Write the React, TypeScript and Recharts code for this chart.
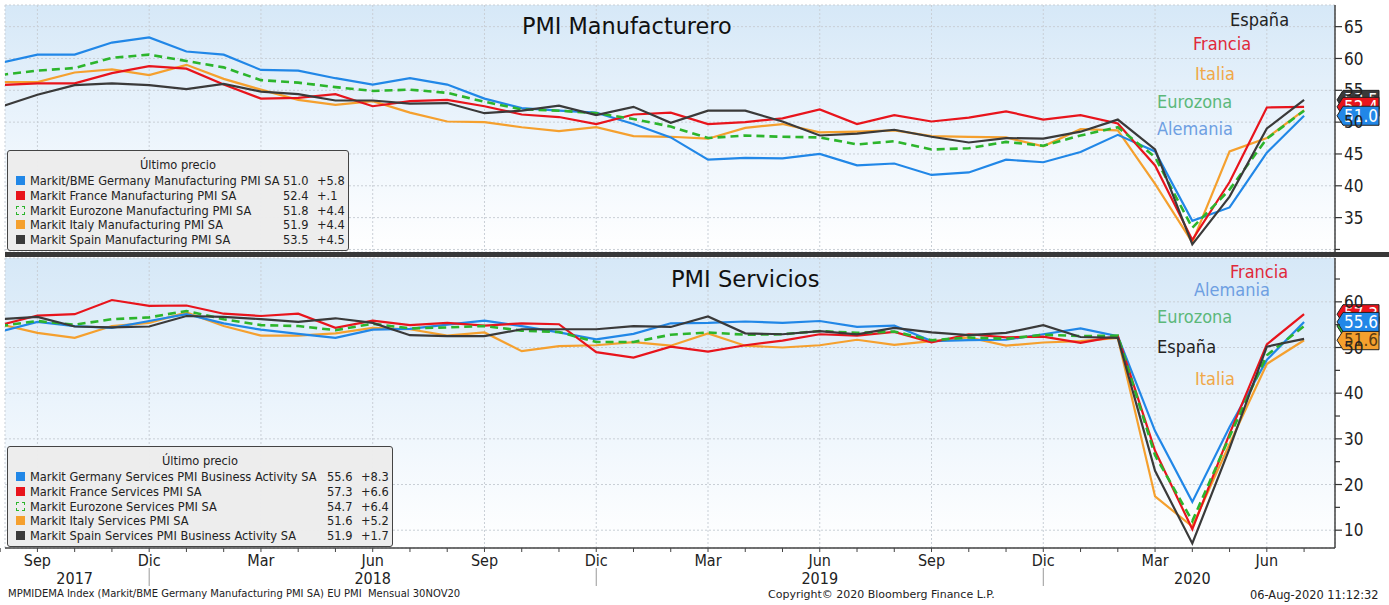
import { LineChart, Line, XAxis, YAxis, CartesianGrid, ReferenceDot } from 'recharts';

// months shown, ago-17 .. jul-20
const PERIODS = [
  'ago-17', 'sep-17', 'oct-17', 'nov-17', 'dic-17',
  'ene-18', 'feb-18', 'mar-18', 'abr-18', 'may-18', 'jun-18', 'jul-18', 'ago-18', 'sep-18', 'oct-18', 'nov-18', 'dic-18',
  'ene-19', 'feb-19', 'mar-19', 'abr-19', 'may-19', 'jun-19', 'jul-19', 'ago-19', 'sep-19', 'oct-19', 'nov-19', 'dic-19',
  'ene-20', 'feb-20', 'mar-20', 'abr-20', 'may-20', 'jun-20', 'jul-20',
];
const QUARTER_LABELS: Record<string, string> = { sep: 'Sep', dic: 'Dic', mar: 'Mar', jun: 'Jun' };
const YEAR_LABELS: [string, string][] = [['oct-17', '2017'], ['jun-18', '2018'], ['jun-19', '2019'], ['abr-20', '2020']];
const YEAR_BREAKS = ['dic-17', 'dic-18', 'dic-19'];

// Manufacturing PMI
const deMfg = [59.3, 60.6, 60.6, 62.5, 63.3, 61.1, 60.6, 58.2, 58.1, 56.9, 55.9, 56.9, 55.9, 53.7, 52.2, 51.8, 51.5, 49.7, 47.6, 44.1, 44.4, 44.3, 45.0, 43.2, 43.5, 41.7, 42.1, 44.1, 43.7, 45.3, 48.0, 45.4, 34.5, 36.6, 45.2, 51.0];
const frMfg = [55.8, 56.1, 56.1, 57.7, 58.8, 58.4, 55.9, 53.7, 53.8, 54.4, 52.5, 53.3, 53.5, 52.5, 51.2, 50.8, 49.7, 51.2, 51.5, 49.7, 50.0, 50.6, 52.0, 49.7, 51.1, 50.1, 50.7, 51.7, 50.4, 51.1, 49.8, 43.2, 31.5, 40.6, 52.3, 52.4];
const ezMfg = [57.4, 58.1, 58.5, 60.1, 60.6, 59.6, 58.6, 56.6, 56.2, 55.5, 54.9, 55.1, 54.6, 53.2, 52.0, 51.8, 51.4, 50.5, 49.3, 47.5, 47.9, 47.7, 47.6, 46.5, 47.0, 45.7, 45.9, 46.9, 46.3, 47.9, 49.2, 44.5, 33.4, 39.4, 47.4, 51.8];
const itMfg = [56.3, 56.3, 57.8, 58.3, 57.4, 59.0, 56.8, 55.1, 53.5, 52.7, 53.3, 51.5, 50.1, 50.0, 49.2, 48.6, 49.2, 47.8, 47.7, 47.4, 49.1, 49.7, 48.4, 48.5, 48.7, 47.8, 47.7, 47.6, 46.2, 48.9, 48.7, 40.3, 31.1, 45.4, 47.5, 51.9];
const esMfg = [52.4, 54.3, 55.8, 56.1, 55.8, 55.2, 56.0, 54.8, 54.4, 53.4, 53.4, 52.9, 53.0, 51.4, 51.8, 52.6, 51.1, 52.4, 49.9, 51.8, 51.8, 50.1, 47.9, 48.2, 48.8, 47.7, 46.8, 47.5, 47.4, 48.5, 50.4, 45.7, 30.8, 38.3, 49.0, 53.5];
const MFG_NAMES = ['Markit/BME Germany Manufacturing PMI SA', 'Markit France Manufacturing PMI SA', 'Markit Eurozone Manufacturing PMI SA', 'Markit Italy Manufacturing PMI SA', 'Markit Spain Manufacturing PMI SA'];
const MFG_CHANGES = ['+5.8', '+.1', '+4.4', '+4.4', '+4.5'];

// Services PMI
const deSvc = [53.5, 55.6, 54.7, 54.3, 55.8, 57.3, 55.3, 53.9, 53.0, 52.1, 53.9, 54.1, 55.0, 55.9, 54.7, 53.3, 51.8, 53.0, 55.3, 55.4, 55.7, 55.4, 55.8, 54.5, 54.8, 51.4, 51.6, 51.7, 52.9, 54.2, 52.5, 31.7, 16.2, 32.6, 47.3, 55.6];
const frSvc = [54.9, 57.0, 57.3, 60.4, 59.1, 59.2, 57.4, 56.9, 57.4, 54.3, 55.9, 54.9, 55.4, 54.8, 55.3, 55.1, 49.0, 47.8, 50.2, 49.1, 50.5, 51.5, 52.9, 52.6, 53.4, 51.1, 52.9, 52.2, 52.4, 51.0, 52.5, 27.4, 10.2, 31.1, 50.7, 57.3];
const ezSvc = [54.7, 55.8, 55.0, 56.2, 56.6, 58.0, 56.2, 54.9, 54.7, 53.8, 55.2, 54.2, 54.4, 54.7, 53.7, 53.4, 51.2, 51.2, 52.8, 53.3, 52.8, 52.9, 53.6, 53.2, 53.5, 51.6, 52.2, 51.9, 52.8, 52.5, 52.6, 26.4, 12.0, 30.5, 48.3, 54.7];
const itSvc = [55.1, 53.2, 52.1, 54.7, 55.4, 57.7, 54.7, 52.6, 52.6, 53.1, 54.3, 54.0, 52.6, 53.3, 49.2, 50.3, 50.5, 51.2, 50.4, 53.1, 50.4, 50.0, 50.5, 51.7, 50.6, 51.4, 52.2, 50.4, 51.1, 51.4, 52.1, 17.4, 10.8, 28.9, 46.4, 51.6];
const esSvc = [56.2, 56.7, 54.6, 54.4, 54.6, 56.9, 56.7, 56.2, 55.6, 56.4, 55.4, 52.7, 52.5, 52.5, 54.0, 54.0, 54.0, 54.7, 54.5, 56.8, 53.1, 52.9, 53.6, 52.9, 54.3, 53.3, 52.7, 53.2, 54.9, 52.3, 52.1, 23.0, 7.1, 27.9, 50.2, 51.9];
const SVC_NAMES = ['Markit Germany Services PMI Business Activity SA', 'Markit France Services PMI SA', 'Markit Eurozone Services PMI SA', 'Markit Italy Services PMI SA', 'Markit Spain Services PMI Business Activity SA'];
const SVC_CHANGES = ['+8.3', '+6.6', '+6.4', '+5.2', '+1.7'];

const MFG_TICKS = [30, 35, 40, 45, 50, 55, 60, 65];
const SVC_TICKS = [10, 15, 20, 25, 30, 35, 40, 45, 50, 55, 60, 65];
const SVC_GRID = [10, 20, 30, 40, 50, 60];

const C = { de: '#2187e7', fr: '#e8141c', ez: '#2cb52c', it: '#f5a02e', es: '#3a3a3a' };
const NARROW = "'Liberation Sans Narrow', 'DejaVu Sans Condensed', sans-serif";
const COND = "'DejaVu Sans Condensed', 'Liberation Sans Narrow', sans-serif";
const TITLE = "'DejaVu Sans', Verdana, sans-serif";

const X_DOMAIN: [number, number] = [0.13, 35.83];
const X_MAX = X_DOMAIN[1];
const idx = (p: string) => PERIODS.indexOf(p);
const QUARTER_IDX = PERIODS.map((p, i) => (QUARTER_LABELS[p.slice(0, 3)] ? i : -1)).filter((i) => i >= 0);
const ALL_IDX = PERIODS.map((_, i) => i);

const mfgRows = PERIODS.map((p, i) => ({ i, de: deMfg[i], fr: frMfg[i], ez: ezMfg[i], it: itMfg[i], es: esMfg[i] }));
const svcRows = PERIODS.map((p, i) => ({ i, de: deSvc[i], fr: frSvc[i], ez: ezSvc[i], it: itSvc[i], es: esSvc[i] }));

function YTick(props: any) {
  const { x, y, payload, labelled } = props;
  const v = payload.value;
  const showLabel = labelled(v);
  return (
    <g>
      <line x1={x} x2={x + (showLabel ? 7 : 5)} y1={y} y2={y} stroke="#333" strokeWidth={1.2} />
      {showLabel && (
        <text x={x + 9} y={y} dy="0.36em" fontSize={17} fill="#222" fontFamily={NARROW}>{v}</text>
      )}
    </g>
  );
}

function MonthTick(props: any) {
  const { x, y, payload } = props;
  const label = QUARTER_LABELS[PERIODS[payload.value].slice(0, 3)];
  return (
    <g>
      <line x1={x} x2={x} y1={y} y2={y + 4} stroke="#444" />
      {label && (
        <text x={x} y={y + 18} textAnchor="middle" fontSize={16} fill="#222" fontFamily={NARROW}>{label}</text>
      )}
    </g>
  );
}

function YearTick(props: any) {
  const { x, y, payload } = props;
  const key = PERIODS[payload.value];
  const year = YEAR_LABELS.find((d) => d[0] === key);
  if (year) {
    return <text x={x} y={y + 14} textAnchor="middle" fontSize={16} fill="#222" fontFamily={NARROW}>{year[1]}</text>;
  }
  return <line x1={x} x2={x} y1={y - 2} y2={y + 16} stroke="#999" />;
}

function Tag(props: any) {
  const { cx, cy, fill, text, color } = props;
  const x0 = cx + 2;
  const h = 9.5;
  return (
    <g>
      <path d={`M${x0},${cy} L${x0 + 6},${cy - h} L${x0 + 42},${cy - h} L${x0 + 42},${cy + h} L${x0 + 6},${cy + h} Z`} fill={fill} stroke="#222" strokeWidth={1} />
      <text x={x0 + 24} y={cy} dy="0.36em" textAnchor="middle" fontSize={17} fill={color} fontFamily={NARROW}>{text}</text>
    </g>
  );
}

const SERIES_ORDER: (keyof typeof C)[] = ['it', 'de', 'fr', 'ez', 'es'];

function renderLines() {
  return SERIES_ORDER.map((k) => (
    <Line
      key={k}
      xAxisId="x"
      yAxisId="y"
      type="linear"
      dataKey={k}
      stroke={C[k]}
      strokeWidth={k === 'ez' ? 2.6 : 2.2}
      strokeDasharray={k === 'ez' ? '8 5' : undefined}
      dot={false}
      activeDot={false}
      isAnimationActive={false}
    />
  ));
}

function tags(list: { k: keyof typeof C; v: number; color: string }[]) {
  return list.map((t) => (
    <ReferenceDot
      key={t.k}
      xAxisId="x"
      yAxisId="y"
      x={X_MAX}
      y={t.v}
      r={0}
      ifOverflow="visible"
      shape={(p: any) => <Tag cx={p.cx} cy={p.cy} fill={C[t.k]} text={t.v.toFixed(1)} color={t.color} />}
    />
  ));
}

function LegendBox({ left, top, width, names, values, changes, valueX, chgX }: any) {
  const keys: (keyof typeof C)[] = ['de', 'fr', 'ez', 'it', 'es'];
  return (
    <div style={{
      position: 'absolute', left, top, width, height: 99, background: 'rgba(236,236,236,0.97)',
      border: '1px solid #444', borderRadius: 3, fontFamily: COND, fontSize: 12.7, color: '#222',
    }}>
      <div style={{ position: 'absolute', left: 0, width: '100%', top: 6, textAlign: 'center', lineHeight: '15px' }}>Último precio</div>
      {keys.map((k, i) => (
        <div key={k} style={{ position: 'absolute', left: 0, top: 22 + i * 14.8, width: '100%', height: 15, lineHeight: '15px', whiteSpace: 'nowrap' }}>
          <span style={{
            position: 'absolute', left: 8, top: 3, width: k === 'ez' ? 7 : 9, height: k === 'ez' ? 7 : 9,
            background: k === 'ez' ? 'transparent' : C[k], border: k === 'ez' ? `1px dashed ${C.ez}` : 'none',
          }} />
          <span style={{ position: 'absolute', left: 22 }}>{names[i]}</span>
          <span style={{ position: 'absolute', left: valueX }}>{values[i].toFixed(1)}</span>
          <span style={{ position: 'absolute', left: chgX }}>{changes[i]}</span>
        </div>
      ))}
    </div>
  );
}

const label = (text: string, left: number, top: number, color: string) => (
  <div key={text + top} style={{ position: 'absolute', left, top, fontFamily: NARROW, fontSize: 18, color, whiteSpace: 'nowrap' }}>{text}</div>
);

export default function App() {
  const lastMfg = [deMfg, frMfg, ezMfg, itMfg, esMfg].map((a) => a[a.length - 1]);
  const lastSvc = [deSvc, frSvc, ezSvc, itSvc, esSvc].map((a) => a[a.length - 1]);
  const bg = 'linear-gradient(to bottom, #d6e8f7 0%, #ebf4fc 50%, #ffffff 100%)';

  return (
    <div style={{ position: 'relative', width: 1389, height: 605, overflow: 'hidden', background: '#fff' }}>
      <style>{'body{margin:0}'}</style>
      <div style={{ position: 'absolute', left: 5, top: 5, width: 1330, height: 247, background: bg }} />
      <div style={{ position: 'absolute', left: 5, top: 258, width: 1330, height: 290, background: bg }} />

      <div style={{ position: 'absolute', left: 0, top: 0 }}>
        <LineChart width={1389} height={253} data={mfgRows} margin={{ top: 5, right: 0, bottom: 1, left: 5 }}>
          <CartesianGrid xAxisId="x" yAxisId="y" stroke="#c9cfd6" strokeDasharray="2 2" />
          <XAxis xAxisId="x" dataKey="i" type="number" domain={X_DOMAIN} allowDataOverflow ticks={QUARTER_IDX} hide height={0} />
          <YAxis
            yAxisId="y" orientation="right" width={54} domain={[29.6, 68.4]} allowDataOverflow type="number"
            ticks={MFG_TICKS} interval={0} tickSize={0} tickMargin={0} tickLine={false}
            axisLine={{ stroke: '#444', strokeWidth: 1.5 }}
            tick={(p: any) => <YTick {...p} labelled={(v: number) => v >= 35} />}
          />
          {renderLines()}
          {tags([
            { k: 'es', v: lastMfg[4], color: '#fff' },
            { k: 'fr', v: lastMfg[1], color: '#fff' },
            { k: 'de', v: lastMfg[0], color: '#fff' },
          ])}
        </LineChart>
      </div>

      <div style={{ position: 'absolute', left: 5, top: 252, width: 1384, height: 5, background: '#383838' }} />

      <div style={{ position: 'absolute', left: 0, top: 257 }}>
        <LineChart width={1389} height={348} data={svcRows} margin={{ top: 1, right: 0, bottom: 13, left: 5 }}>
          <CartesianGrid xAxisId="g" yAxisId="g" stroke="#c9cfd6" strokeDasharray="2 2" />
          <XAxis
            xAxisId="x" dataKey="i" type="number" domain={X_DOMAIN} allowDataOverflow ticks={ALL_IDX} interval={0}
            height={22} tickSize={0} tickMargin={0} tickLine={false} axisLine={{ stroke: '#444', strokeWidth: 1.5 }}
            tick={(p: any) => <MonthTick {...p} />}
          />
          <XAxis
            xAxisId="yr" dataKey="i" type="number" domain={X_DOMAIN} allowDataOverflow
            ticks={[...YEAR_LABELS.map((d) => idx(d[0])), ...YEAR_BREAKS.map(idx)].sort((a, b) => a - b)}
            interval={0} height={22} tickSize={0} tickMargin={0} tickLine={false} axisLine={false}
            tick={(p: any) => <YearTick {...p} />}
          />
          <XAxis xAxisId="g" dataKey="i" type="number" domain={X_DOMAIN} allowDataOverflow ticks={QUARTER_IDX} hide height={0} />
          <YAxis
            yAxisId="y" orientation="right" width={54} domain={[6.1, 69.6]} allowDataOverflow type="number"
            ticks={SVC_TICKS} interval={0} tickSize={0} tickMargin={0} tickLine={false}
            axisLine={{ stroke: '#444', strokeWidth: 1.5 }}
            tick={(p: any) => <YTick {...p} labelled={(v: number) => v % 10 === 0} />}
          />
          <YAxis yAxisId="g" orientation="right" domain={[6.1, 69.6]} allowDataOverflow type="number" ticks={SVC_GRID} hide width={0} />
          {renderLines()}
          {tags([
            { k: 'fr', v: lastSvc[1], color: '#fff' },
            { k: 'ez', v: lastSvc[2], color: '#fff' },
            { k: 'it', v: lastSvc[3], color: '#5a3a10' },
            { k: 'de', v: lastSvc[0], color: '#fff' },
          ])}
        </LineChart>
      </div>

      <div style={{ position: 'absolute', left: 522, top: 13, fontFamily: TITLE, fontSize: 22.4, color: '#111', whiteSpace: 'nowrap' }}>PMI Manufacturero</div>
      <div style={{ position: 'absolute', left: 671, top: 266, fontFamily: TITLE, fontSize: 22.6, color: '#111', whiteSpace: 'nowrap' }}>PMI Servicios</div>

      {label('España', 1230, 9, '#222')}
      {label('Francia', 1193, 33, '#e0283a')}
      {label('Italia', 1195, 63, '#f0a848')}
      {label('Eurozona', 1157, 91, '#5cb87a')}
      {label('Alemania', 1157, 118, '#6e9fe2')}

      {label('Francia', 1230, 261, '#e0283a')}
      {label('Alemania', 1194, 279, '#6e9fe2')}
      {label('Eurozona', 1157, 306, '#5cb87a')}
      {label('España', 1157, 336, '#222')}
      {label('Italia', 1195, 368, '#f0a848')}

      <LegendBox left={7} top={150} width={340} names={MFG_NAMES} values={lastMfg} changes={MFG_CHANGES} valueX={275} chgX={309} />
      <LegendBox left={7} top={446} width={384} names={SVC_NAMES} values={lastSvc} changes={SVC_CHANGES} valueX={319} chgX={353} />

      <div style={{ position: 'absolute', left: 8, top: 588, fontFamily: TITLE, fontSize: 10, color: '#222', whiteSpace: 'nowrap' }}>
        MPMIDEMA Index (Markit/BME Germany Manufacturing PMI SA) EU PMI&nbsp;&nbsp;Mensual 30NOV20
      </div>
      <div style={{ position: 'absolute', left: 768, top: 588, fontFamily: TITLE, fontSize: 11, color: '#222', whiteSpace: 'nowrap' }}>
        Copyright© 2020 Bloomberg Finance L.P.
      </div>
      <div style={{ position: 'absolute', left: 1250, top: 588, fontFamily: TITLE, fontSize: 11.4, color: '#222', whiteSpace: 'nowrap' }}>
        06-Aug-2020 11:12:32
      </div>
    </div>
  );
}
